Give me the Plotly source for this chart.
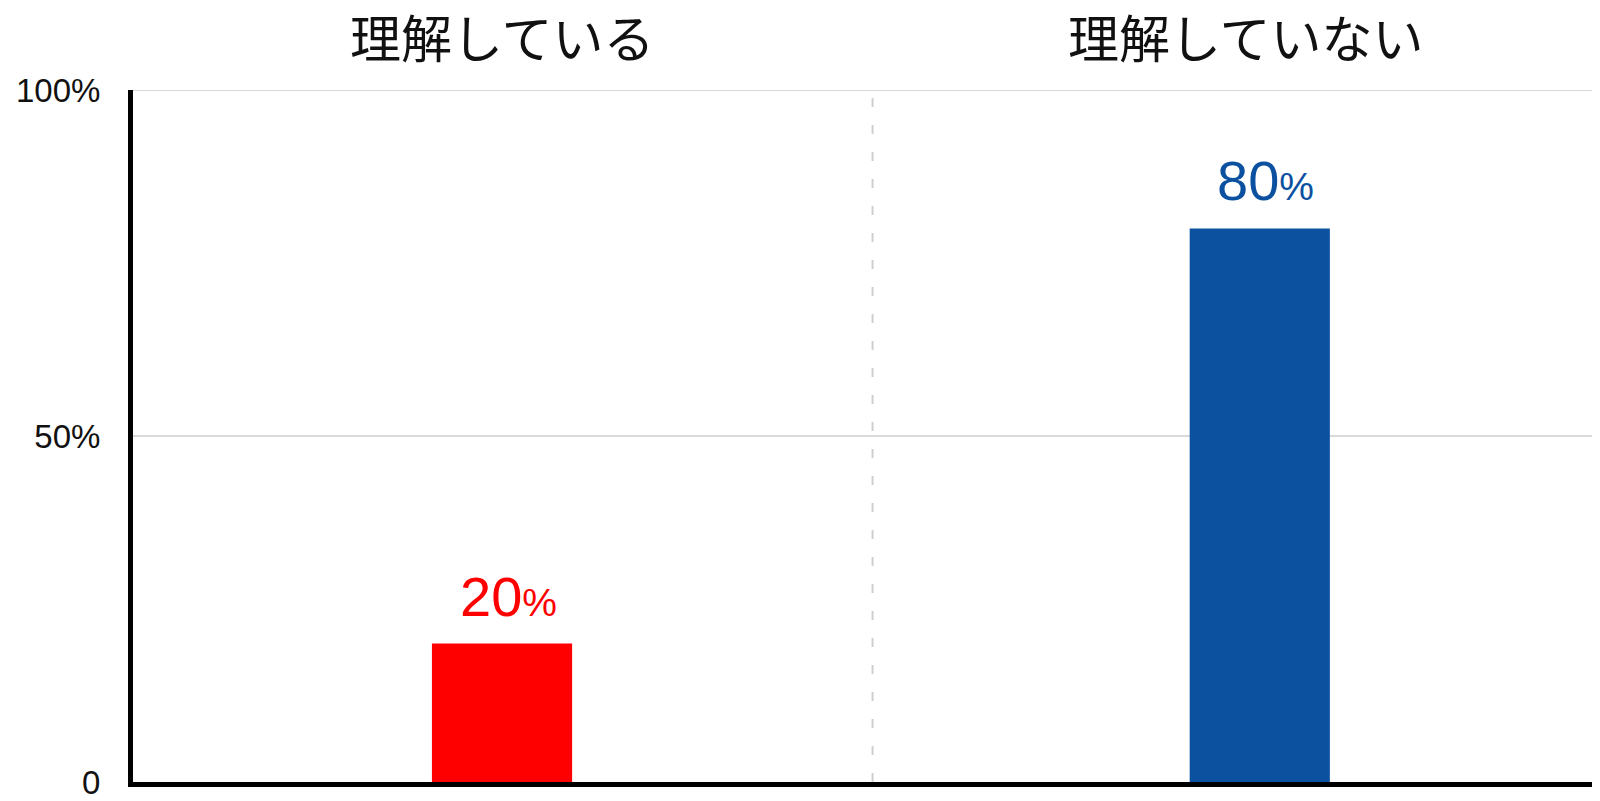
import plotly.graph_objects as go

# データ
categories = ['理解している', '理解していない']
values = [20, 80]
colors = ['#ff0000', '#0b519f']
tick_vals = [0, 50, 100]
tick_text = ['0', '50%', '100%']

fig = go.Figure()

fig.add_trace(go.Bar(
    x=categories,
    y=values,
    marker=dict(color=colors, line=dict(width=0)),
    width=0.185,
    hoverinfo='skip',
))

# 値ラベル（%は少し小さく）
for cat, val, col in zip(categories, values, colors):
    fig.add_annotation(
        x=cat, y=val, xref='x', yref='y',
        text=f"{val}<span style='font-size:39px'>%</span>",
        showarrow=False, yanchor='bottom', yshift=14, xshift=6,
        font=dict(family='Liberation Sans, Arial', size=56, color=col),
    )

# 上部のカテゴリ名
for i, cat in enumerate(categories):
    fig.add_annotation(
        x=cat, y=1, xref='x', yref='paper',
        text=cat, showarrow=False, yanchor='middle', yshift=54,
        xshift=0 if i == 0 else -14,
        font=dict(family='Noto Sans CJK JP', size=51, color='#111'),
    )

# 中央の点線
fig.add_shape(
    type='line', xref='x', yref='paper',
    x0=0.489, x1=0.489, y0=0, y1=1,
    line=dict(color='#cfcfcf', width=2, dash='9px,18px'),
    layer='below',
)

# 上端(100%)のグリッド線
fig.add_shape(
    type='line', xref='paper', yref='y',
    x0=0, x1=1, y0=tick_vals[-1], y1=tick_vals[-1],
    line=dict(color='#d9d9d9', width=2),
    layer='below',
)

# ページの余白（8px）を考慮してサイズを調整
fig.update_layout(
    width=1592, height=793,
    margin=dict(l=125, r=0, t=82, b=19),
    plot_bgcolor='white', paper_bgcolor='white',
    showlegend=False,
    xaxis=dict(
        type='category', range=[-0.487, 1.449],
        showticklabels=False, showgrid=False, ticks='',
        showline=True, linecolor='black', linewidth=5,
        fixedrange=True,
    ),
    yaxis=dict(
        range=[0, 100], tickvals=tick_vals, ticktext=tick_text,
        showgrid=True, gridcolor='#d9d9d9', gridwidth=2,
        zeroline=False, ticks='', ticklabelstandoff=21,
        showline=True, linecolor='black', linewidth=5,
        tickfont=dict(family='Liberation Sans, Arial', size=33, color='#111'),
        fixedrange=True,
    ),
)

fig.write_html("out.html")
